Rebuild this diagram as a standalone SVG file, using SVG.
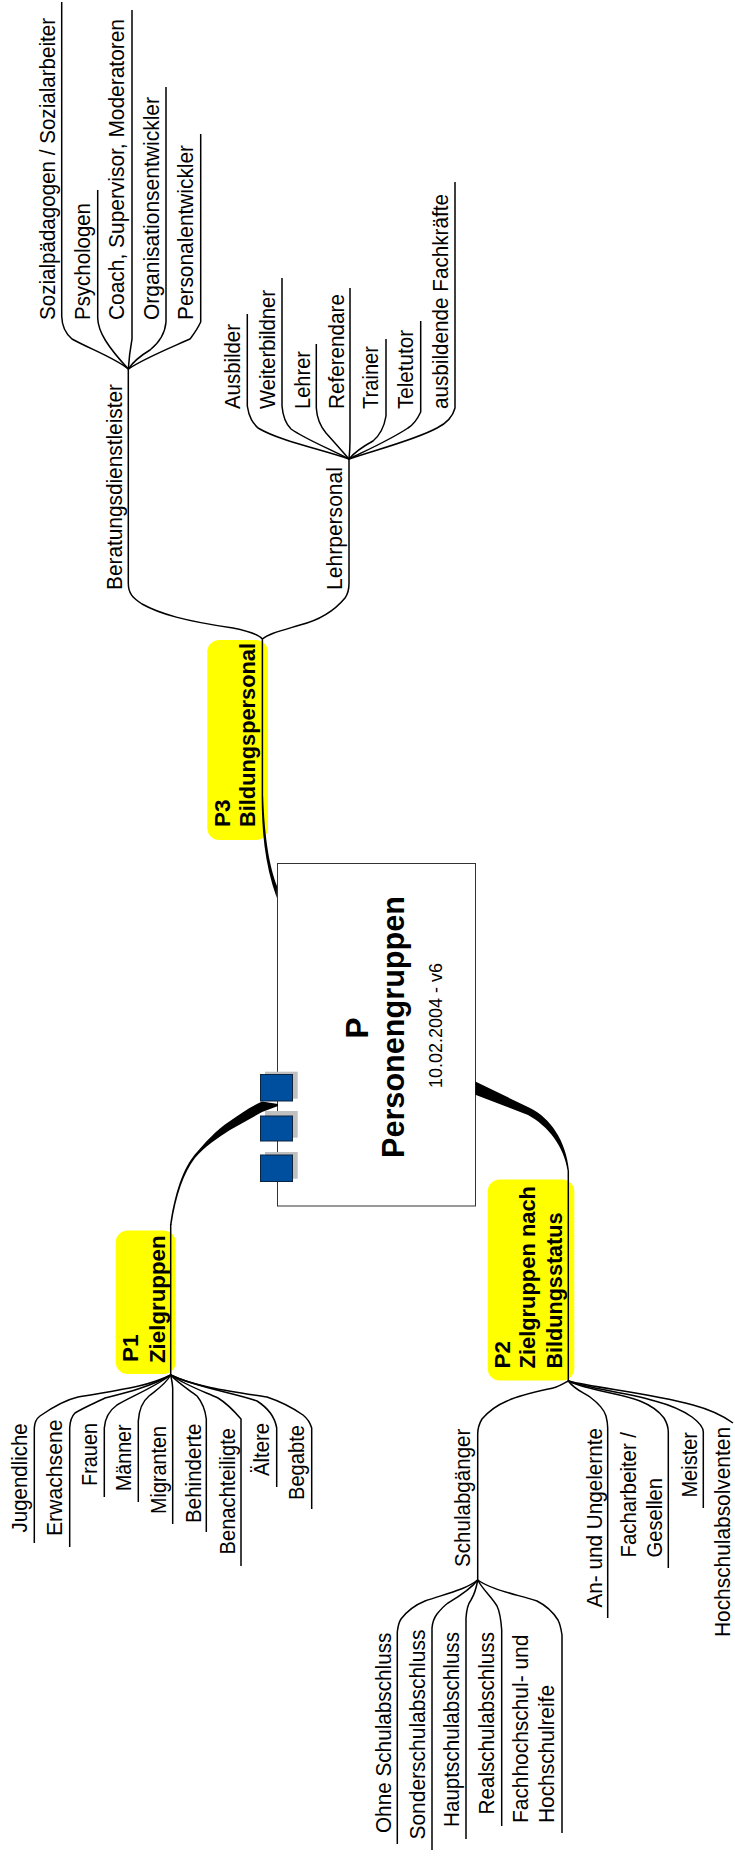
<svg xmlns="http://www.w3.org/2000/svg" width="735" height="1856" viewBox="0 0 735 1856">
<style>
text{font-family:"Liberation Sans",Arial,sans-serif;fill:#000}
.l{font-size:21.5px}
.b{font-size:22.5px;font-weight:bold}
.y{fill:#ffff00}
.c path{fill:none;stroke:#000;stroke-width:1.5}
.c path.w{fill:#000;stroke:none}
.s{fill:#c0c0c0}
.q{fill:#004f9f;stroke:#0d2440;stroke-width:1}
</style>
<g id="P"><rect x="277.5" y="863.5" width="198" height="342.5" fill="#fff" stroke="#333" stroke-width="1"/>
<text x="368" y="1028" transform="rotate(-90 368 1028)" text-anchor="middle" font-size="31.5" font-weight="bold">P</text>
<text transform="translate(404 1158) rotate(-90)" font-size="31.5" font-weight="bold" textLength="262" lengthAdjust="spacingAndGlyphs">Personengruppen</text>
<text transform="translate(442.3 1088) rotate(-90)" font-size="17.5" textLength="125" lengthAdjust="spacingAndGlyphs">10.02.2004 - v6</text></g>
<g id="P1"><rect class="y" x="115.7" y="1230.5" width="60" height="143.5" rx="12"/>
<text class="b" transform="translate(137.8 1362) rotate(-90)">P1</text>
<text class="b" transform="translate(164.5 1363) rotate(-90)" textLength="127.5" lengthAdjust="spacingAndGlyphs">Zielgruppen</text></g>
<g id="P2"><rect class="y" x="487.7" y="1179.5" width="86.6" height="201" rx="12"/>
<text class="b" transform="translate(510 1368.5) rotate(-90)">P2</text>
<text class="b" transform="translate(535 1368.5) rotate(-90)" textLength="182.5" lengthAdjust="spacingAndGlyphs">Zielgruppen nach</text>
<text class="b" transform="translate(561.7 1368.5) rotate(-90)" textLength="156" lengthAdjust="spacingAndGlyphs">Bildungsstatus</text></g>
<g id="P3"><rect class="y" x="207.3" y="640" width="60.7" height="200" rx="12"/>
<text class="b" transform="translate(230 827) rotate(-90)">P3</text>
<text class="b" transform="translate(255 827) rotate(-90)" textLength="184" lengthAdjust="spacingAndGlyphs">Bildungspersonal</text></g>
<g id="connectors" class="c">
<path class="w" d="M261.6,796C262,830 264,862 276.8,898L277,886C270,868 264.5,840 263.2,796Z"/>
<path class="w" d="M278,1104L262,1101.5C250,1107 240,1114 230,1121C215,1131 205,1143 197,1152C186,1164 176,1185 170,1225L171.5,1225C176,1195 184,1172 195,1158C205,1146 218,1138 230,1130L262,1112L278,1106Z"/>
<path class="w" d="M475.3,1081.6L530,1108C550,1118 566,1140 569,1171L567.6,1171C564,1146 548,1126 528,1115L475.3,1094.7Z"/>
<path d="M262.4,796V639M128.3,369V583C128.3,594 133,598 142,604C160,614 185,621 233,628C248,631 258,634 262.4,639C268,634 280,631 300,625C320,620 335,610 345,598C348,594 349,590 349,583V459"/>
<path d="M61.7,2V316C62,328 66,334 72,339C90,349 115,358 128.3,369"/>
<path d="M97.7,190V318C98,332 108,347 128.3,369"/>
<path d="M132,10V339C130,350 129,358 128.3,369"/>
<path d="M166,87V322C165,334 160,342 150,350C140,356 133,362 128.3,369"/>
<path d="M200.7,134V322C197,330 193,335 190,339C170,348 145,358 128.3,369"/>
<path d="M247.3,314V406C249,418 253,423 258,428C280,441 320,449 349,459"/>
<path d="M282,278V406C283,418 286,424 291,429C305,439 330,449 349,459"/>
<path d="M316.3,344V408C317,420 321,427 326,433C335,443 342,451 349,459"/>
<path d="M350,288V441C350,449 349.5,454 349,459"/>
<path d="M386,339V416C384,428 379,436 373,441C362,447 354,453 349,459"/>
<path d="M420.7,321V412C417,420 413,425 408,428C390,440 365,451 349,459"/>
<path d="M455,182V408C453,416 447,423 437,428C415,440 375,450 349,459"/>
<path d="M170.7,1224V1375"/>
<path d="M34.3,1543V1428C34.5,1422 36,1419 40,1416C50,1409 65,1400 78,1397C110,1391 145,1388 170.7,1375"/>
<path d="M69.7,1547V1428C70,1420 72,1416 75,1413C85,1407 95,1403 105,1398C125,1393 150,1387 170.7,1375"/>
<path d="M104.3,1497V1428C105,1418 110,1410 117,1405C130,1397 155,1387 170.7,1375"/>
<path d="M138.3,1502V1421C139,1410 143,1401 149,1396C155,1391 165,1385 170.7,1375"/>
<path d="M172.7,1524V1388C172.5,1383 171.5,1379 170.7,1375"/>
<path d="M206.3,1532V1419C205,1408 202,1402 197,1396C188,1389 178,1383 170.7,1375"/>
<path d="M241,1566V1419C235,1412 228,1404 218,1398C205,1392 185,1385 170.7,1375"/>
<path d="M276.7,1487V1428C275,1418 268,1408 257,1401C235,1393 195,1387 170.7,1375"/>
<path d="M311.7,1509V1428C310,1422 308,1419 303,1415C293,1408 282,1402 267,1397C235,1392 195,1387 170.7,1375"/>
<path d="M568.3,1171V1381"/>
<path d="M568.3,1381C563,1384 558,1387 553,1388C535,1392 520,1395 507,1401C495,1406 488,1412 482,1419C479,1424 477.7,1428 477.7,1434V1580"/>
<path d="M568.3,1381C575,1390 583,1392 590,1397C598,1403 604,1409 606,1416C607,1420 607.7,1424 607.7,1428V1618"/>
<path d="M568.3,1381C590,1391 620,1393 640,1401C650,1405 658,1410 664,1418C667,1423 668.3,1427 668.3,1432V1568"/>
<path d="M568.3,1381C590,1389 625,1392 655,1401C670,1405 682,1410 692,1417C700,1423 703.3,1427 703.3,1432V1508"/>
<path d="M568.3,1381C595,1388 650,1393 693,1405C708,1409 722,1415 733,1423"/>
<path d="M397.3,1844V1632C398,1626 399,1622 401,1619C408,1610 415,1605 425,1601C445,1594 465,1590 477.7,1580"/>
<path d="M432,1850V1628C432.5,1622 434,1618 437,1614C442,1608 445,1605 448,1603C458,1597 470,1590 477.7,1580"/>
<path d="M466,1839V1618C466.5,1610 468,1604 471,1600C474,1595 476,1590 477.7,1580"/>
<path d="M501.7,1826V1630C501,1620 500,1612 497,1606C491,1596 483,1590 477.7,1580"/>
<path d="M562,1833V1635C561,1628 560,1624 558,1620C553,1612 545,1605 537,1601C515,1594 492,1590 477.7,1580"/>
</g>
<g id="markers">
<rect class="s" x="265" y="1071.7" width="32.7" height="27"/><rect class="q" x="260.5" y="1074.5" width="32" height="26.5"/>
<rect class="s" x="265" y="1111" width="32.7" height="26.7"/><rect class="q" x="260.5" y="1116" width="32" height="25"/>
<rect class="s" x="265" y="1152" width="32.7" height="26.7"/><rect class="q" x="260.5" y="1155" width="32" height="26.5"/>
</g>
<g id="labels">
<g id="n-sozial"><text class="l" transform="translate(54.5 320) rotate(-90)" textLength="302" lengthAdjust="spacingAndGlyphs">Sozialpädagogen / Sozialarbeiter</text></g>
<g id="n-psy"><text class="l" transform="translate(89.5 320) rotate(-90)" textLength="117" lengthAdjust="spacingAndGlyphs">Psychologen</text></g>
<g id="n-coach"><text class="l" transform="translate(124 320) rotate(-90)" textLength="301" lengthAdjust="spacingAndGlyphs">Coach, Supervisor, Moderatoren</text></g>
<g id="n-org"><text class="l" transform="translate(158.7 320) rotate(-90)" textLength="223" lengthAdjust="spacingAndGlyphs">Organisationsentwickler</text></g>
<g id="n-pers"><text class="l" transform="translate(193.3 320) rotate(-90)" textLength="175" lengthAdjust="spacingAndGlyphs">Personalentwickler</text></g>
<g id="n-ausb"><text class="l" transform="translate(240 409) rotate(-90)" textLength="85" lengthAdjust="spacingAndGlyphs">Ausbilder</text></g>
<g id="n-weit"><text class="l" transform="translate(275 409) rotate(-90)" textLength="119" lengthAdjust="spacingAndGlyphs">Weiterbildner</text></g>
<g id="n-lehrer"><text class="l" transform="translate(310 409) rotate(-90)" textLength="58" lengthAdjust="spacingAndGlyphs">Lehrer</text></g>
<g id="n-ref"><text class="l" transform="translate(343.5 409) rotate(-90)" textLength="115" lengthAdjust="spacingAndGlyphs">Referendare</text></g>
<g id="n-trainer"><text class="l" transform="translate(378 409) rotate(-90)" textLength="63" lengthAdjust="spacingAndGlyphs">Trainer</text></g>
<g id="n-tele"><text class="l" transform="translate(412.7 409) rotate(-90)" textLength="79" lengthAdjust="spacingAndGlyphs">Teletutor</text></g>
<g id="n-ausbf"><text class="l" transform="translate(447.7 409) rotate(-90)" textLength="215" lengthAdjust="spacingAndGlyphs">ausbildende Fachkräfte</text></g>
<g id="n-berat"><text class="l" transform="translate(122 590) rotate(-90)" textLength="206" lengthAdjust="spacingAndGlyphs">Beratungsdienstleister</text></g>
<g id="n-lehrp"><text class="l" transform="translate(341.7 590) rotate(-90)" textLength="123" lengthAdjust="spacingAndGlyphs">Lehrpersonal</text></g>
<g id="n-jug"><text class="l" transform="translate(27.3 1532.4) rotate(-90)" textLength="109" lengthAdjust="spacingAndGlyphs">Jugendliche</text></g>
<g id="n-erw"><text class="l" transform="translate(62 1536) rotate(-90)" textLength="116.5" lengthAdjust="spacingAndGlyphs">Erwachsene</text></g>
<g id="n-frauen"><text class="l" transform="translate(96.7 1486) rotate(-90)" textLength="63" lengthAdjust="spacingAndGlyphs">Frauen</text></g>
<g id="n-maenner"><text class="l" transform="translate(131 1491) rotate(-90)" textLength="66.5" lengthAdjust="spacingAndGlyphs">Männer</text></g>
<g id="n-migr"><text class="l" transform="translate(166 1514) rotate(-90)" textLength="88" lengthAdjust="spacingAndGlyphs">Migranten</text></g>
<g id="n-beh"><text class="l" transform="translate(200.7 1523) rotate(-90)" textLength="99.4" lengthAdjust="spacingAndGlyphs">Behinderte</text></g>
<g id="n-ben"><text class="l" transform="translate(235 1554.5) rotate(-90)" textLength="126.5" lengthAdjust="spacingAndGlyphs">Benachteiligte</text></g>
<g id="n-aelt"><text class="l" transform="translate(269.3 1476) rotate(-90)" textLength="53" lengthAdjust="spacingAndGlyphs">Ältere</text></g>
<g id="n-beg"><text class="l" transform="translate(304 1500) rotate(-90)" textLength="75" lengthAdjust="spacingAndGlyphs">Begabte</text></g>
<g id="n-schul"><text class="l" transform="translate(470 1567) rotate(-90)" textLength="138.4" lengthAdjust="spacingAndGlyphs">Schulabgänger</text></g>
<g id="n-an"><text class="l" transform="translate(602.3 1607.6) rotate(-90)" textLength="179.6" lengthAdjust="spacingAndGlyphs">An- und Ungelernte</text></g>
<g id="n-fach"><text class="l" transform="translate(636 1557.4) rotate(-90)" textLength="125.4" lengthAdjust="spacingAndGlyphs">Facharbeiter /</text><text class="l" transform="translate(662 1557.4) rotate(-90)" textLength="79.4" lengthAdjust="spacingAndGlyphs">Gesellen</text></g>
<g id="n-meist"><text class="l" transform="translate(696.7 1497.6) rotate(-90)" textLength="65.6" lengthAdjust="spacingAndGlyphs">Meister</text></g>
<g id="n-hoch"><text class="l" transform="translate(730 1637) rotate(-90)" textLength="210" lengthAdjust="spacingAndGlyphs">Hochschulabsolventen</text></g>
<g id="n-ohne"><text class="l" transform="translate(390.7 1833) rotate(-90)" textLength="200.4" lengthAdjust="spacingAndGlyphs">Ohne Schulabschluss</text></g>
<g id="n-sond"><text class="l" transform="translate(425 1839.6) rotate(-90)" textLength="210" lengthAdjust="spacingAndGlyphs">Sonderschulabschluss</text></g>
<g id="n-haupt"><text class="l" transform="translate(459 1827) rotate(-90)" textLength="195" lengthAdjust="spacingAndGlyphs">Hauptschulabschluss</text></g>
<g id="n-real"><text class="l" transform="translate(494 1814.5) rotate(-90)" textLength="182.5" lengthAdjust="spacingAndGlyphs">Realschulabschluss</text></g>
<g id="n-fh"><text class="l" transform="translate(528.3 1823) rotate(-90)" textLength="188.3" lengthAdjust="spacingAndGlyphs">Fachhochschul- und</text><text class="l" transform="translate(554.3 1823) rotate(-90)" textLength="138" lengthAdjust="spacingAndGlyphs">Hochschulreife</text></g>
</g>
</svg>
